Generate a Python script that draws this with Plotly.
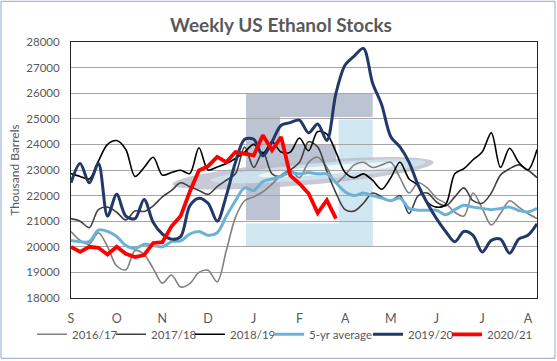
import numpy as np
import plotly.graph_objects as go

# ---- data (weekly, week 0 = early September) ----
weeks = list(range(52))
tick_weeks = [0, 5, 10, 15, 20, 25, 30, 35, 40, 45, 50]
tick_labels = ["S", "O", "N", "D", "J", "F", "A", "M", "J", "J", "A"]

s2016_17 = [20600, 20250, 20100, 20550, 20000, 19250, 19100, 19850, 19700, 19150,
            18580, 18900, 18430, 18560, 19000, 19080, 18630, 19860, 21150, 21800,
            21950, 22150, 22450, 22800, 23000, 22700, 23300, 23500, 23100, 22500,
            22800, 23200, 23300, 23100, 23200, 23300, 22700, 22100, 22500, 22300,
            21900, 21700, 21350, 21200, 22100, 21500, 20850, 21300, 21800, 21550,
            21300, 21100]
s2017_18 = [21100, 21000, 20750, 21450, 21550, 21350, 21050, 21400, 21380, 21600,
            21950, 22200, 22500, 22350, 22200, 22050, 22350, 22600, 22850, 23900,
            23100, 23700, 22850, 22750, 23000, 23300, 24100, 23900, 22950, 22100,
            21450, 21400, 21700, 22100, 21950, 21800, 22000, 21300, 22000, 22100,
            21750, 21600, 21950, 22300, 21800, 21700, 22100, 22800, 23050, 23200,
            23000, 22700]
s2018_19 = [22860, 22750, 22650, 23350, 24000, 24150, 23800, 22750, 23100, 23500,
            22800, 22900, 22990, 22860, 23870, 23000, 23120, 23250, 23450, 23700,
            24000, 23650, 24100, 23700, 23700, 24250, 23750, 24500, 24400, 23700,
            22900, 22700, 22850, 22600, 22250, 22700, 23300, 22650, 22400, 21750,
            21550, 21650, 22850, 23050, 23400, 23700, 24450, 23100, 23850, 23300,
            23000, 23800]
avg5 = [20250, 20200, 20200, 20650, 20600, 20400, 20050, 19930, 20100, 20050,
        20000, 20200, 20230, 20500, 20600, 20450, 20550, 21200, 21800, 22300,
        22200, 22550, 22650, 22750, 22900, 22850, 22900, 22850, 22850, 22500,
        22150, 22000, 22100, 22000, 21900, 21800, 21900, 21500, 21430, 21430,
        21430, 21250, 21450, 21620, 21550, 21500, 21450, 21500, 21550, 21420,
        21360, 21500]
s2019_20 = [22500, 23250, 22500, 23250, 21200, 22050, 21200, 21100, 21850, 20950,
            20500, 20300, 20400, 21600, 21900, 21700, 21000, 22000, 23300, 24200,
            24200, 23550, 24100, 24750, 24850, 24950, 24450, 24800, 24150, 26000,
            27100, 27450, 27750, 26400, 25550, 24300, 23900, 23300, 22400, 21700,
            21100, 20600, 20200, 20600, 20450, 19800, 20250, 20300, 19750, 20300,
            20450, 20900]
s2020_21 = [20000, 19800, 20000, 19960, 19700, 20000, 19730, 19600, 19680, 20150,
            20180, 20800, 21200, 22150, 22980, 23150, 23510, 23310, 23700, 23640,
            23570, 24360, 23770, 24290, 22790, 22470, 22080, 21320, 21820, 21100]

series = [
    ("2016/17", s2016_17, "#808080", 1.6, "spline", 34),
    ("2017/18", s2017_18, "#404040", 1.6, "spline", 34),
    ("2018/19", s2018_19, "#000000", 1.6, "spline", 34),
    ("5-yr average", avg5, "#6cb2d6", 3.0, "spline", 54),
    ("2019/20", s2019_20, "#22386a", 3.0, "spline", 34),
    ("2020/21", s2020_21, "#ff0000", 3.8, "linear", 40),
]

fig = go.Figure()
for name, vals, color, w, shape, lw in series:
    fig.add_trace(go.Scatter(
        x=weeks[:len(vals)], y=vals, name=name, mode="lines", legendwidth=lw,
        line=dict(color=color, width=w, shape=shape, smoothing=0.9),
        hoverinfo="skip",
    ))

# ---- plot area geometry (pixels) used for decorative watermark ----
L, R, T, B = 71, 537, 41.7, 297.7
W, H = R - L, B - T


def px(xp):
    return (xp - L) / W


def py(yp):
    return (B - yp) / H


shapes = []
gray = "#bcc3d3"
lblue = "#d0e6f0"
for (x0, x1, y0, y1, c) in [
    (246, 372.7, 92.7, 116.7, gray),
    (246, 280, 92.7, 220, gray),
    (280, 336, 144, 168.3, gray),
    (338.7, 372.7, 119.3, 246.7, lblue),
    (246, 372.7, 223.3, 246.7, lblue),
]:
    shapes.append(dict(type="rect", xref="paper", yref="paper",
                       x0=px(x0), x1=px(x1), y0=py(y1), y1=py(y0),
                       fillcolor=c, line=dict(width=0), layer="below"))


def ellipse_path(cx, cy, a, b, ang_deg):
    t = np.linspace(0, 2 * np.pi, 60)
    ang = np.deg2rad(ang_deg)
    xs = cx + a * np.cos(t) * np.cos(ang) - b * np.sin(t) * np.sin(ang)
    ys = cy + a * np.cos(t) * np.sin(ang) + b * np.sin(t) * np.cos(ang)
    pts = [f"{px(x):.4f},{py(y):.4f}" for x, y in zip(xs, ys)]
    return "M" + " L".join(pts) + " Z"


for (cx, cy, a, b, col, op) in [
    (303, 173, 131, 12, "#b9bdcc", 0.8),
    (318, 171, 108, 8, "#cde3ee", 0.9),
    (330, 169.5, 72, 4.5, "#f4f8fb", 0.9),
]:
    shapes.append(dict(type="path", xref="paper", yref="paper",
                       path=ellipse_path(cx, cy, a, b, -4.8),
                       fillcolor=col, opacity=op, line=dict(width=0),
                       layer="below"))

# outer chart border
shapes.append(dict(type="rect", xref="paper", yref="paper",
                   x0=px(1), x1=px(555), y0=py(358), y1=py(1),
                   line=dict(color="#8ea6d2", width=1), fillcolor="rgba(0,0,0,0)",
                   layer="above"))

font_family = "Lato, 'Open Sans', Arial, sans-serif"
fig.update_layout(
    width=557, height=361,
    margin=dict(l=L, r=557 - R, t=T, b=361 - B, autoexpand=False),
    paper_bgcolor="white", plot_bgcolor="white",
    font=dict(family=font_family, color="#595959", size=12),
    title=dict(text="<b>Weekly US Ethanol Stocks</b>", x=281 / 557, xanchor="center",
               xref="container", y=1 - 25.5 / 361, yanchor="middle",
               font=dict(size=19, color="#595959", family=font_family)),
    showlegend=True,
    legend=dict(orientation="h", yanchor="middle", y=py(334), xanchor="left",
                x=px(32), font=dict(size=11.5, color="#595959"), itemwidth=30,
                bgcolor="rgba(0,0,0,0)", borderwidth=0),
    shapes=shapes,
)
fig.update_xaxes(range=[0, 51], tickmode="array", tickvals=tick_weeks,
                 ticktext=tick_labels, showgrid=False, zeroline=False,
                 showline=True, mirror=True, linecolor="#262626", linewidth=1,
                 ticks="", ticklabelstandoff=9,
                 tickfont=dict(size=12.5, color="#595959"))
fig.update_yaxes(range=[18000, 28000], dtick=1000, tickformat="d",
                 showgrid=True, gridcolor="#a6a6a6", gridwidth=1, zeroline=False,
                 showline=True, mirror=True, linecolor="#262626", linewidth=1,
                 ticks="", tickfont=dict(size=11.5, color="#595959"),
                 ticklabelstandoff=8,
                 title=dict(text="Thousand Barrels", standoff=4,
                            font=dict(size=12, color="#595959")))

fig.write_html("out.html", config={"displayModeBar": False},
               post_script="document.body.style.margin='0';document.body.style.overflow='hidden';")
